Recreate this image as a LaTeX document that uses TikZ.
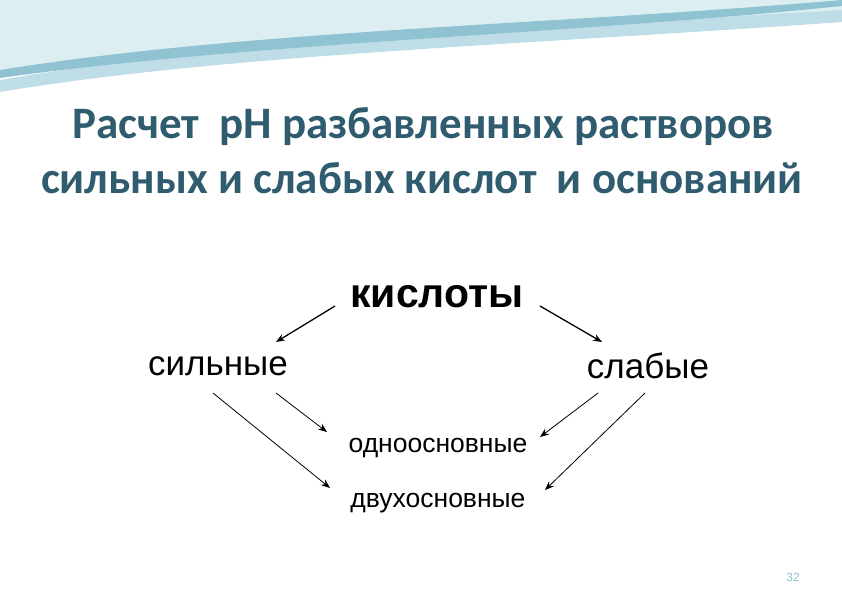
\documentclass[tikz,border=0pt]{standalone}
\usepackage{fontspec}
\setmainfont{Liberation Sans}
\newfontfamily\titlefont{Carlito}
\usetikzlibrary{arrows.meta}
\definecolor{titlec}{HTML}{2F5C6E}
\definecolor{wave1}{HTML}{BFDDE6}
\definecolor{wave2}{HTML}{8FC3D2}
\definecolor{wave3}{HTML}{DCEEF2}
\begin{document}
\begin{tikzpicture}[x=1pt,y=-1pt,
  lbl/.style={inner sep=0pt,anchor=center},
  arr/.style={-{Stealth[length=9pt,width=7pt]},line width=0.8pt}]
\useasboundingbox (0,0) rectangle (842,595);
\fill[white] (0,0) rectangle (842,595);
% top decoration
\fill[wave3] (0,0) -- (842,0) -- (842,18) .. controls (600,30) and (300,30) .. (0,75) -- cycle;
\fill[wave1] (0,80) .. controls (200,45) and (500,30) .. (842,10) -- (842,22) .. controls (520,45) and (220,55) .. (0,92) -- cycle;
\fill[wave2] (0,70) .. controls (250,30) and (550,25) .. (842,0) -- (842,6) .. controls (560,35) and (260,42) .. (0,78) -- cycle;
\fill[wave3] (0,0) -- (500,0) .. controls (350,15) and (150,20) .. (0,45) -- cycle;
% title
\node[lbl,text=titlec,font=\titlefont\bfseries\fontsize{45}{50}\selectfont] (t1) at (423,127) {Расчет\ \ pH разбавленных растворов};
\node[lbl,text=titlec,font=\titlefont\bfseries\fontsize{45}{50}\selectfont] (t2) at (422,178) {сильных и слабых кислот\ \ и оснований};
% nodes
\node[lbl,font=\bfseries\fontsize{41}{46}\selectfont] (k) at (437,297) {кислоты};
\node[lbl,font=\fontsize{35}{40}\selectfont] (s) at (218,366) {сильные};
\node[lbl,font=\fontsize{35}{40}\selectfont] (w) at (648,366) {слабые};
\node[lbl,font=\fontsize{26.5}{30}\selectfont] (o) at (438,448) {одноосновные};
\node[lbl,font=\fontsize{26.5}{30}\selectfont] (d) at (438,503) {двухосновные};
\node[lbl,text=wave2,font=\fontsize{12}{14}\selectfont] (n) at (793,577) {32};
% arrows
\coordinate (a1) at (335,306); \coordinate (a2) at (540,306);
\coordinate (b1) at (276,393); \coordinate (b2) at (213,393);
\coordinate (c1) at (598,393); \coordinate (c2) at (645,393);
\draw[arr,line width=1.3pt] (a1) -- (276,342);
\draw[arr,line width=1.3pt] (a2) -- (602,342);
\draw[arr] (b1) -- (327,432);
\draw[arr] (b2) -- (330,488);
\draw[arr] (c1) -- (540,437);
\draw[arr] (c2) -- (545,490);
\end{tikzpicture}
\end{document}
